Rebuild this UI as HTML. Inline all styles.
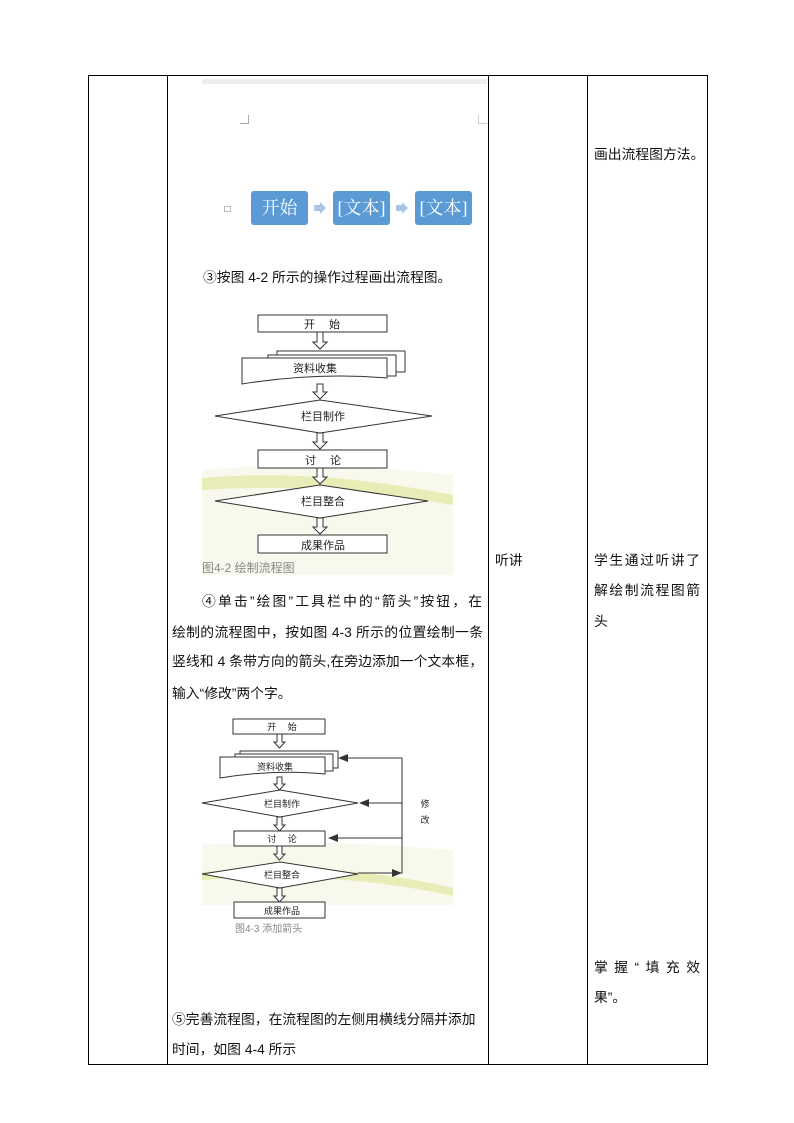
<!DOCTYPE html>
<html><head><meta charset="utf-8"><style>
body{margin:0;width:794px;height:1123px;background:#fff;position:relative;font-family:"Liberation Sans","Noto Sans CJK SC",sans-serif;overflow:hidden}
.a{position:absolute}
.l{position:absolute;font-size:13.8px;line-height:20px;color:#111;white-space:nowrap}
.j{text-align:justify;text-align-last:justify;white-space:normal}
.vl{position:absolute;width:1px;background:#000}
.hl{position:absolute;height:1px;background:#000}
.bx{position:absolute;background:#5b9bd5;border-radius:3px;color:#fff;font-family:"Liberation Serif","Noto Serif CJK SC",serif;font-size:18px;text-align:center;line-height:34px}
</style></head><body>
<div class="hl" style="left:88px;top:75px;width:620px"></div>
<div class="hl" style="left:88px;top:1064px;width:620px"></div>
<div class="vl" style="left:88px;top:75px;height:990px"></div>
<div class="vl" style="left:167px;top:75px;height:990px"></div>
<div class="vl" style="left:488px;top:75px;height:990px"></div>
<div class="vl" style="left:587px;top:75px;height:990px"></div>
<div class="vl" style="left:707px;top:75px;height:990px"></div>

<div class="a" style="left:202px;top:79px;width:285px;height:5px;background:#eceef0"></div>
<div class="a" style="left:240px;top:115px;width:8px;height:8px;border-right:1px solid #aaa;border-bottom:1px solid #aaa"></div>
<div class="a" style="left:478px;top:115px;width:8px;height:8px;border-left:1px solid #ccc;border-bottom:1px solid #ccc"></div>
<div class="a" style="left:224px;top:206px;width:5px;height:4px;border:1px solid #bbb"></div>
<div class="bx" style="left:251px;top:191px;width:57px;height:34px">开始</div>
<div class="bx" style="left:333px;top:191px;width:57px;height:34px">[文本]</div>
<div class="bx" style="left:415px;top:191px;width:57px;height:34px">[文本]</div>
<svg class="a" style="left:310px;top:200px" width="110" height="16"><polygon points="4,5 10,5 10,2 16,8 10,14 10,11 4,11" fill="#a9c4e6"/><polygon points="86,5 92,5 92,2 98,8 92,14 92,11 86,11" fill="#a9c4e6"/></svg>

<div class="l" style="left:203px;top:268px">③按图 4-2 所示的操作过程画出流程图。</div>

<svg class="a" style="left:195px;top:300px" width="270" height="285" font-family="Liberation Sans,Noto Sans CJK SC,sans-serif" font-size="11">
<path d="M7,170 Q120,160 258,175 L258,275 L7,275 Z" fill="#f8f9ec"/>
<path d="M7,178 Q120,168 258,195 L258,205 Q120,182 7,190 Z" fill="#e8edb8"/>
<g stroke="#333" fill="#fff" stroke-width="1">
<rect x="63" y="15" width="129" height="17"/>
<path d="M122,32 h6 v10 h4 l-7,7 l-7,-7 h4 z"/>
<path d="M82,51 h128 v21 h-128 z"/>
<path d="M73,55 h128 v21 h-128 z"/>
<path d="M47,58 h145 v20 q-70,-6 -145,6 z"/>
<path d="M122,84 h6 v8 h4 l-7,7 l-7,-7 h4 z"/>
<polygon points="20,116 125,100 237,116 125,133"/>
<path d="M122,133 h6 v9 h4 l-7,7 l-7,-7 h4 z"/>
<rect x="63" y="150" width="129" height="18"/>
<path d="M122,168 h6 v9 h4 l-7,7 l-7,-7 h4 z"/>
<polygon points="20,201 125,185 233,201 125,218"/>
<path d="M122,218 h6 v9 h4 l-7,7 l-7,-7 h4 z"/>
<rect x="63" y="235" width="129" height="18"/>
</g>
<g fill="#222" text-anchor="middle">
<text x="127" y="28">开　 始</text>
<text x="120" y="72">资料收集</text>
<text x="128" y="120">栏目制作</text>
<text x="128" y="164">讨　 论</text>
<text x="128" y="205">栏目整合</text>
<text x="128" y="249">成果作品</text>
</g>
<text x="7" y="272" font-size="12" fill="#888">图4-2  绘制流程图</text>
</svg>

<div class="l j" style="left:172px;top:592px;width:310px;padding-left:30px;box-sizing:border-box">④单击”绘图”工具栏中的“箭头”按钮，在</div>
<div class="l j" style="left:172px;top:623px;width:311px">绘制的流程图中，按如图 4-3 所示的位置绘制一条</div>
<div class="l j" style="left:172px;top:652px;width:311px">竖线和 4 条带方向的箭头,在旁边添加一个文本框，</div>
<div class="l" style="left:172px;top:684px">输入“修改”两个字。</div>

<svg class="a" style="left:195px;top:710px" width="270" height="230" font-family="Liberation Sans,Noto Sans CJK SC,sans-serif" font-size="9">
<path d="M7,135 Q120,128 258,140 L258,195 L7,195 Z" fill="#f8f9ec"/>
<path d="M7,162 Q140,150 258,178 L258,186 Q140,160 7,170 Z" fill="#e8edb8"/>
<g stroke="#333" fill="#fff" stroke-width="1">
<rect x="38" y="9" width="92" height="15"/>
<path d="M82,24 h5 v8 h3 l-5.5,6 l-5.5,-6 h3 z"/>
<path d="M45,41 h98 v17 h-98 z"/>
<path d="M40,44 h98 v17 h-98 z"/>
<path d="M25,47 h105 v17 q-50,-5 -105,4 z"/>
<path d="M82,67 h5 v7 h3 l-5.5,6 l-5.5,-6 h3 z"/>
<polygon points="7,93 85,80 163,93 85,107"/>
<path d="M82,107 h5 v8 h3 l-5.5,6 l-5.5,-6 h3 z"/>
<rect x="39" y="121" width="91" height="15"/>
<path d="M82,136 h5 v8 h3 l-5.5,6 l-5.5,-6 h3 z"/>
<polygon points="7,164 85,152 163,164 85,178"/>
<path d="M82,178 h5 v8 h3 l-5.5,6 l-5.5,-6 h3 z"/>
<rect x="39" y="192" width="91" height="16"/>
</g>
<g stroke="#333" stroke-width="1" fill="none">
<path d="M207,48 V163 H163"/>
<path d="M207,48 H150"/><path d="M207,93 H165"/><path d="M207,128 H134"/>
</g>
<g fill="#333">
<polygon points="143,48 153,44 153,52"/>
<polygon points="164,93 174,89 174,97"/>
<polygon points="133,128 143,124 143,132"/>
<polygon points="207,163 197,159 197,167"/>
</g>
<g fill="#222" text-anchor="middle">
<text x="87" y="20">开　 始</text>
<text x="80" y="60">资料收集</text>
<text x="87" y="97">栏目制作</text>
<text x="87" y="132">讨　 论</text>
<text x="87" y="168">栏目整合</text>
<text x="87" y="204">成果作品</text>
<text x="230" y="97">修</text>
<text x="230" y="113">改</text>
</g>
<text x="40" y="222" font-size="10" fill="#888">图4-3  添加箭头</text>
</svg>

<div class="l" style="left:172px;top:1010px">⑤完善流程图，在流程图的左侧用横线分隔并添加</div>
<div class="l" style="left:172px;top:1040px">时间，如图 4-4 所示</div>

<div class="l" style="left:594px;top:145px">画出流程图方法。</div>
<div class="l" style="left:495px;top:551px">听讲</div>
<div class="l j" style="left:594px;top:551px;width:106px">学生通过听讲了</div>
<div class="l j" style="left:594px;top:581px;width:106px">解绘制流程图箭</div>
<div class="l" style="left:594px;top:612px">头</div>
<div class="l j" style="left:594px;top:958px;width:106px">掌握“填充效</div>
<div class="l" style="left:594px;top:988px">果”。</div>
</body></html>
